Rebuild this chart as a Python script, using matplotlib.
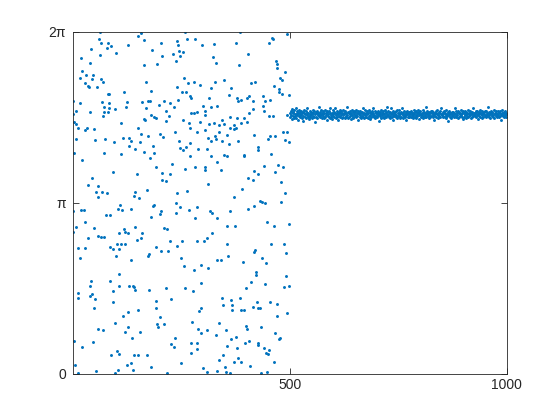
import numpy as np
import matplotlib
matplotlib.use('Agg')
import matplotlib.pyplot as plt

# phases, (sample index, angle in rad)
# samples 1..500: scattered over [0, 2pi]
top_left = [(63, 6.27), (158, 6.26), (151, 6.20), (166, 6.12), (62, 6.14), (67, 6.08), (83, 6.08), (90, 6.01),
            (80, 5.98), (128, 6.04), (203, 6.08), (241, 6.10), (243, 6.03), (44, 5.96), (184, 5.95), (232, 5.87),
            (246, 5.92), (100, 5.89), (63, 5.85), (19, 5.80), (207, 5.83), (40, 5.70), (166, 5.67), (195, 5.69),
            (238, 5.75), (23, 5.55), (31, 5.49), (48, 5.49), (18, 5.43), (45, 5.41), (66, 5.41), (70, 5.36),
            (29, 5.33), (35, 5.29), (39, 5.27), (56, 5.26), (170, 5.36), (241, 5.27), (182, 5.20), (118, 5.17),
            (81, 5.14), (85, 5.13), (2, 5.00), (17, 4.97), (68, 4.98), (84, 4.97), (126, 4.98), (161, 4.98),
            (175, 5.00), (179, 5.00), (212, 5.00), (224, 4.97), (243, 5.03), (73, 4.89), (85, 4.87), (97, 4.86),
            (124, 4.90), (170, 4.87), (199, 4.94), (234, 4.89), (1, 4.77), (9, 4.83), (41, 4.80), (73, 4.81),
            (81, 4.81), (71, 4.73), (182, 4.75), (189, 4.71), (193, 4.69), (215, 4.82), (222, 4.74), (4, 4.62),
            (8, 4.59), (113, 4.60), (165, 4.67), (168, 4.66), (216, 4.64), (151, 4.51), (12, 4.51), (29, 4.48),
            (33, 4.51), (49, 4.49), (157, 4.40), (174, 4.36), (201, 4.40), (209, 4.35), (236, 4.44), (9, 4.31),
            (53, 4.29), (76, 4.31), (116, 4.32), (131, 4.32), (135, 4.27), (155, 4.26), (95, 4.25), (245, 4.28)]

top_right = [(259, 6.27), (386, 6.27), (494, 6.24), (265, 6.14), (283, 6.15), (327, 6.06), (377, 6.07), (453, 6.08),
             (459, 6.16), (462, 6.14), (299, 6.03), (255, 5.90), (247, 5.83), (405, 5.87), (324, 5.81), (330, 5.71),
             (469, 5.75), (471, 5.68), (470, 5.62), (384, 5.67), (489, 5.54), (479, 5.43), (482, 5.40), (257, 5.43),
             (280, 5.36), (266, 5.34), (293, 5.31), (328, 5.35), (350, 5.40), (411, 5.34), (421, 5.35), (319, 5.24),
             (365, 5.24), (463, 5.28), (476, 5.23), (475, 5.18), (252, 5.18), (262, 5.18), (270, 5.10), (274, 5.06),
             (361, 5.11), (314, 5.06), (380, 5.06), (382, 5.00), (388, 5.03), (401, 5.06), (407, 5.10), (415, 5.00),
             (438, 5.10), (444, 5.00), (455, 5.02), (482, 5.13), (498, 5.11), (301, 4.92), (305, 4.83), (319, 4.90),
             (334, 4.92), (415, 4.86), (438, 4.91), (440, 4.83), (407, 4.79), (274, 4.79), (280, 4.79), (288, 4.81),
             (305, 4.75), (363, 4.71), (378, 4.70), (395, 4.70), (453, 4.73), (461, 4.73), (494, 4.75), (255, 4.66),
             (293, 4.63), (344, 4.66), (268, 4.60), (315, 4.59), (327, 4.60), (338, 4.57), (350, 4.59), (373, 4.57),
             (388, 4.60), (401, 4.63), (270, 4.51), (305, 4.48), (363, 4.52), (373, 4.49), (377, 4.52), (418, 4.38),
             (288, 4.43), (328, 4.37), (338, 4.44), (357, 4.38), (484, 4.43), (494, 4.44), (270, 4.24), (313, 4.32),
             (320, 4.27), (330, 4.31), (344, 4.27), (361, 4.22), (382, 4.27), (450, 4.31), (455, 4.37), (467, 4.36),
             (489, 4.29), (498, 4.26)]

mid_left = [(131, 4.19), (185, 4.19), (3, 4.06), (72, 4.05), (112, 4.03), (145, 4.13), (166, 4.08), (188, 4.05),
            (179, 3.96), (23, 3.92), (230, 3.85), (192, 3.79), (93, 3.70), (148, 3.67), (207, 3.68), (224, 3.67),
            (45, 3.59), (207, 3.56), (216, 3.53), (37, 3.47), (60, 3.45), (54, 3.33), (68, 3.33), (79, 3.31),
            (172, 3.37), (241, 3.31), (145, 3.33), (143, 3.26), (153, 3.22), (58, 3.24), (189, 3.10), (185, 3.08),
            (238, 3.13), (110, 3.10), (104, 3.03), (114, 3.00), (134, 3.02), (2, 2.99), (19, 3.00), (26, 3.01),
            (205, 2.98), (201, 2.94), (239, 2.96), (77, 2.92), (87, 2.91), (182, 2.88), (29, 2.79), (8, 2.70),
            (50, 2.67), (1, 2.61), (118, 2.66), (122, 2.61), (128, 2.59), (107, 2.59), (145, 2.69), (161, 2.59),
            (212, 2.67), (218, 2.66), (35, 2.49), (58, 2.53), (66, 2.52), (73, 2.51), (148, 2.46), (157, 2.49),
            (224, 2.44), (103, 2.39), (112, 2.39), (121, 2.39), (12, 2.30), (29, 2.30), (87, 2.33), (93, 2.29),
            (107, 2.29), (193, 2.33), (220, 2.26), (241, 2.35), (205, 2.26), (17, 2.12), (100, 2.16), (135, 2.09),
            (174, 2.16), (176, 2.20)]

mid_right = [(262, 4.17), (247, 4.14), (255, 4.11), (289, 4.13), (311, 4.13), (427, 4.17), (428, 4.10), (350, 4.02),
             (355, 4.00), (394, 4.02), (395, 3.99), (458, 4.03), (270, 3.99), (320, 3.99), (332, 3.88), (440, 3.82),
             (473, 3.84), (484, 3.79), (259, 3.76), (283, 3.79), (306, 3.80), (306, 3.74), (342, 3.74), (419, 3.73),
             (428, 3.67), (467, 3.70), (404, 3.59), (415, 3.56), (481, 3.52), (313, 3.49), (391, 3.39), (264, 3.36),
             (490, 3.31), (373, 3.25), (432, 3.18), (436, 3.15), (444, 3.14), (481, 3.15), (247, 3.07), (288, 3.07),
             (417, 3.08), (405, 3.02), (268, 3.00), (317, 2.99), (322, 2.96), (363, 2.99), (334, 2.86), (282, 2.86),
             (448, 2.78), (499, 2.75), (463, 2.72), (355, 2.72), (374, 2.72), (322, 2.59), (309, 2.49), (252, 2.43),
             (286, 2.43), (303, 2.43), (357, 2.38), (458, 2.38), (486, 2.39), (421, 2.27), (418, 2.24), (492, 2.21),
             (359, 2.16), (249, 2.12), (334, 2.09), (342, 2.09), (436, 2.12)]

low_left = [(108, 1.83), (44, 1.70), (87, 1.70), (41, 1.62), (107, 1.62), (130, 1.62), (139, 1.62), (143, 1.59),
            (145, 1.53), (93, 1.52), (176, 1.54), (215, 1.58), (14, 1.49), (14, 1.39), (40, 1.42), (45, 1.46),
            (53, 1.37), (94, 1.32), (193, 1.34), (226, 1.37), (50, 1.21), (193, 1.21), (152, 1.17), (128, 1.13),
            (116, 1.06), (202, 1.04), (99, 0.94), (195, 0.92), (197, 0.86), (211, 0.92), (129, 0.86), (60, 0.83),
            (70, 0.80), (122, 0.77), (155, 0.77), (138, 0.66), (236, 0.65), (4, 0.60), (48, 0.58), (22, 0.49),
            (228, 0.54), (233, 0.50), (102, 0.42), (108, 0.37), (90, 0.34), (143, 0.34), (151, 0.34), (172, 0.34),
            (134, 0.20), (125, 0.16), (182, 0.13), (6, 0.17), (54, 0.05), (104, 0.07), (139, 0.07), (13, 0.01),
            (98, 0.01), (218, 0.01)]

low_right = [(446, 2.03), (296, 2.00), (257, 1.97), (280, 1.90), (313, 1.95), (392, 2.05), (423, 1.87), (422, 1.81),
             (411, 1.69), (492, 1.80), (297, 1.67), (260, 1.57), (278, 1.52), (400, 1.58), (444, 1.64), (486, 1.59),
             (499, 1.61), (345, 1.39), (365, 1.35), (386, 1.39), (425, 1.32), (455, 1.32), (471, 1.29), (346, 1.26),
             (368, 1.26), (368, 1.17), (388, 1.17), (396, 1.17), (415, 1.23), (427, 1.21), (432, 1.20), (296, 1.21),
             (292, 1.15), (494, 1.12), (471, 1.07), (276, 0.96), (338, 0.93), (400, 0.88), (401, 0.83), (434, 0.86),
             (289, 0.82), (297, 0.74), (310, 0.80), (353, 0.80), (330, 0.71), (365, 0.64), (376, 0.67), (407, 0.61),
             (398, 0.57), (428, 0.57), (427, 0.53), (466, 0.75), (475, 0.64), (479, 0.66), (274, 0.57), (288, 0.57),
             (274, 0.39), (286, 0.45), (355, 0.51), (378, 0.48), (442, 0.48), (453, 0.43), (445, 0.39), (450, 0.36),
             (346, 0.34), (382, 0.29), (338, 0.25), (371, 0.22), (388, 0.21), (409, 0.14), (465, 0.22), (251, 0.19),
             (301, 0.10), (310, 0.03), (334, 0.05), (351, 0.13), (353, 0.03), (364, 0.01), (435, 0.01), (448, 0.04)]

# samples 501..1000: locked band around ~4.77 rad
band_y = [
    4.79, 4.72, 4.83, 4.75, 4.68, 4.86, 4.78, 4.73, 4.80, 4.69, 4.84, 4.77, 4.74, 4.88, 4.70, 4.79, 4.75, 4.82, 4.66, 4.78, 4.85, 4.73, 4.77, 4.81, 4.71,
    4.75, 4.83, 4.69, 4.78, 4.74, 4.81, 4.64, 4.79, 4.84, 4.72, 4.77, 4.70, 4.82, 4.75, 4.78, 4.87, 4.71, 4.79, 4.74, 4.67, 4.83, 4.77, 4.72, 4.81, 4.75,
    4.70, 4.78, 4.85, 4.74, 4.79, 4.71, 4.82, 4.76, 4.63, 4.81, 4.72, 4.78, 4.83, 4.69, 4.75, 4.79, 4.74, 4.89, 4.77, 4.71, 4.81, 4.75, 4.84, 4.70, 4.78,
    4.82, 4.74, 4.77, 4.69, 4.79, 4.85, 4.72, 4.78, 4.75, 4.83, 4.66, 4.81, 4.74, 4.77, 4.71, 4.82, 4.78, 4.70, 4.87, 4.75, 4.72, 4.79, 4.67, 4.77, 4.84,
    4.74, 4.81, 4.71, 4.78, 4.88, 4.75, 4.69, 4.79, 4.72, 4.82, 4.77, 4.65, 4.81, 4.74, 4.84, 4.78, 4.71, 4.75, 4.82, 4.70, 4.79, 4.77, 4.85, 4.72, 4.78,
    4.77, 4.70, 4.82, 4.74, 4.79, 4.71, 4.90, 4.75, 4.81, 4.69, 4.78, 4.72, 4.83, 4.77, 4.74, 4.67, 4.79, 4.84, 4.75, 4.72, 4.81, 4.70, 4.77, 4.82, 4.74,
    4.81, 4.75, 4.71, 4.85, 4.78, 4.74, 4.82, 4.66, 4.77, 4.79, 4.72, 4.83, 4.75, 4.70, 4.78, 4.81, 4.74, 4.88, 4.71, 4.77, 4.69, 4.79, 4.75, 4.84, 4.72,
    4.78, 4.72, 4.82, 4.77, 4.70, 4.79, 4.74, 4.84, 4.75, 4.81, 4.67, 4.78, 4.71, 4.82, 4.77, 4.74, 4.87, 4.79, 4.72, 4.75, 4.83, 4.69, 4.78, 4.74, 4.81,
    4.71, 4.79, 4.75, 4.83, 4.64, 4.78, 4.74, 4.81, 4.77, 4.85, 4.70, 4.79, 4.75, 4.72, 4.82, 4.78, 4.69, 4.77, 4.84, 4.74, 4.81, 4.71, 4.79, 4.75, 4.89,
    4.75, 4.82, 4.72, 4.78, 4.74, 4.81, 4.70, 4.87, 4.77, 4.71, 4.79, 4.75, 4.83, 4.66, 4.78, 4.74, 4.81, 4.77, 4.72, 4.82, 4.75, 4.84, 4.70, 4.79, 4.74,
    4.79, 4.74, 4.84, 4.70, 4.77, 4.81, 4.72, 4.78, 4.88, 4.75, 4.69, 4.79, 4.74, 4.82, 4.77, 4.71, 4.81, 4.75, 4.65, 4.83, 4.78, 4.72, 4.77, 4.81, 4.74,
    4.72, 4.81, 4.77, 4.71, 4.83, 4.75, 4.79, 4.69, 4.78, 4.74, 4.85, 4.77, 4.81, 4.72, 4.75, 4.82, 4.70, 4.78, 4.74, 4.79, 4.84, 4.75, 4.67, 4.81, 4.77,
    4.82, 4.75, 4.72, 4.79, 4.77, 4.69, 4.84, 4.74, 4.81, 4.78, 4.71, 4.75, 4.89, 4.79, 4.72, 4.77, 4.83, 4.74, 4.78, 4.70, 4.81, 4.75, 4.79, 4.72, 4.82,
    4.74, 4.78, 4.83, 4.75, 4.71, 4.81, 4.77, 4.66, 4.79, 4.74, 4.82, 4.78, 4.72, 4.77, 4.85, 4.75, 4.70, 4.81, 4.74, 4.78, 4.71, 4.82, 4.77, 4.87, 4.75,
    4.77, 4.71, 4.81, 4.74, 4.82, 4.78, 4.72, 4.79, 4.75, 4.69, 4.84, 4.77, 4.74, 4.81, 4.64, 4.78, 4.75, 4.83, 4.72, 4.79, 4.77, 4.70, 4.81, 4.74, 4.78,
    4.81, 4.75, 4.78, 4.72, 4.87, 4.77, 4.71, 4.82, 4.74, 4.79, 4.75, 4.83, 4.69, 4.78, 4.72, 4.81, 4.77, 4.74, 4.84, 4.75, 4.79, 4.71, 4.78, 4.67, 4.82,
    4.72, 4.79, 4.75, 4.82, 4.77, 4.70, 4.81, 4.74, 4.78, 4.85, 4.71, 4.77, 4.79, 4.74, 4.83, 4.75, 4.78, 4.69, 4.81, 4.72, 4.77, 4.88, 4.74, 4.79, 4.75,
    4.78, 4.74, 4.83, 4.71, 4.79, 4.75, 4.82, 4.77, 4.67, 4.81, 4.74, 4.78, 4.72, 4.84, 4.77, 4.79, 4.70, 4.75, 4.82, 4.78, 4.72, 4.81, 4.77, 4.74, 4.83,
    4.75, 4.82, 4.72, 4.78, 4.74, 4.89, 4.77, 4.71, 4.81, 4.75, 4.79, 4.69, 4.83, 4.77, 4.74, 4.81, 4.78, 4.72, 4.75, 4.84, 4.70, 4.79, 4.77, 4.82, 4.74,
    4.79, 4.72, 4.77, 4.82, 4.75, 4.71, 4.81, 4.78, 4.74, 4.83, 4.77, 4.66, 4.79, 4.75, 4.85, 4.74, 4.78, 4.81, 4.72, 4.77, 4.82, 4.75, 4.71, 4.79, 4.77,
]
band_start = 501

y_ticks = [0, np.pi, 2 * np.pi]
y_ticklabels = ['0', '\u03c0', '2\u03c0']
x_ticks = [500, 1000]

BLUE = '#0072BD'
DARK = '#262626'


def main():
    plt.rcParams['font.family'] = ['Liberation Sans', 'DejaVu Sans']
    plt.rcParams['font.size'] = 10

    pts = top_left + top_right + mid_left + mid_right + low_left + low_right
    x_left = [p[0] for p in pts]
    y_left = [p[1] for p in pts]
    x_band = np.arange(band_start, band_start + len(band_y))

    fig = plt.figure(figsize=(5.6, 4.2), dpi=100)
    ax = fig.add_axes([0.13, 0.11, 0.775, 0.815])

    ax.scatter(x_left, y_left, s=4.5, color=BLUE, linewidths=0)
    ax.scatter(x_band, band_y, s=4.5, color=BLUE, linewidths=0)

    ax.set_xlim(1, 1000)
    ax.set_ylim(0, 2 * np.pi)
    ax.set_xticks(x_ticks)
    ax.set_yticks(y_ticks)
    ax.set_yticklabels(y_ticklabels)

    for side in ax.spines.values():
        side.set_color(DARK)
        side.set_linewidth(0.6)
    ax.tick_params(direction='in', top=True, right=True, length=4, width=0.6,
                   colors=DARK, labelsize=10)
    ax.tick_params(axis='x', pad=3)
    ax.tick_params(axis='y', pad=5)

    fig.savefig('out.png', dpi=100)


if __name__ == "__main__":
    main()
